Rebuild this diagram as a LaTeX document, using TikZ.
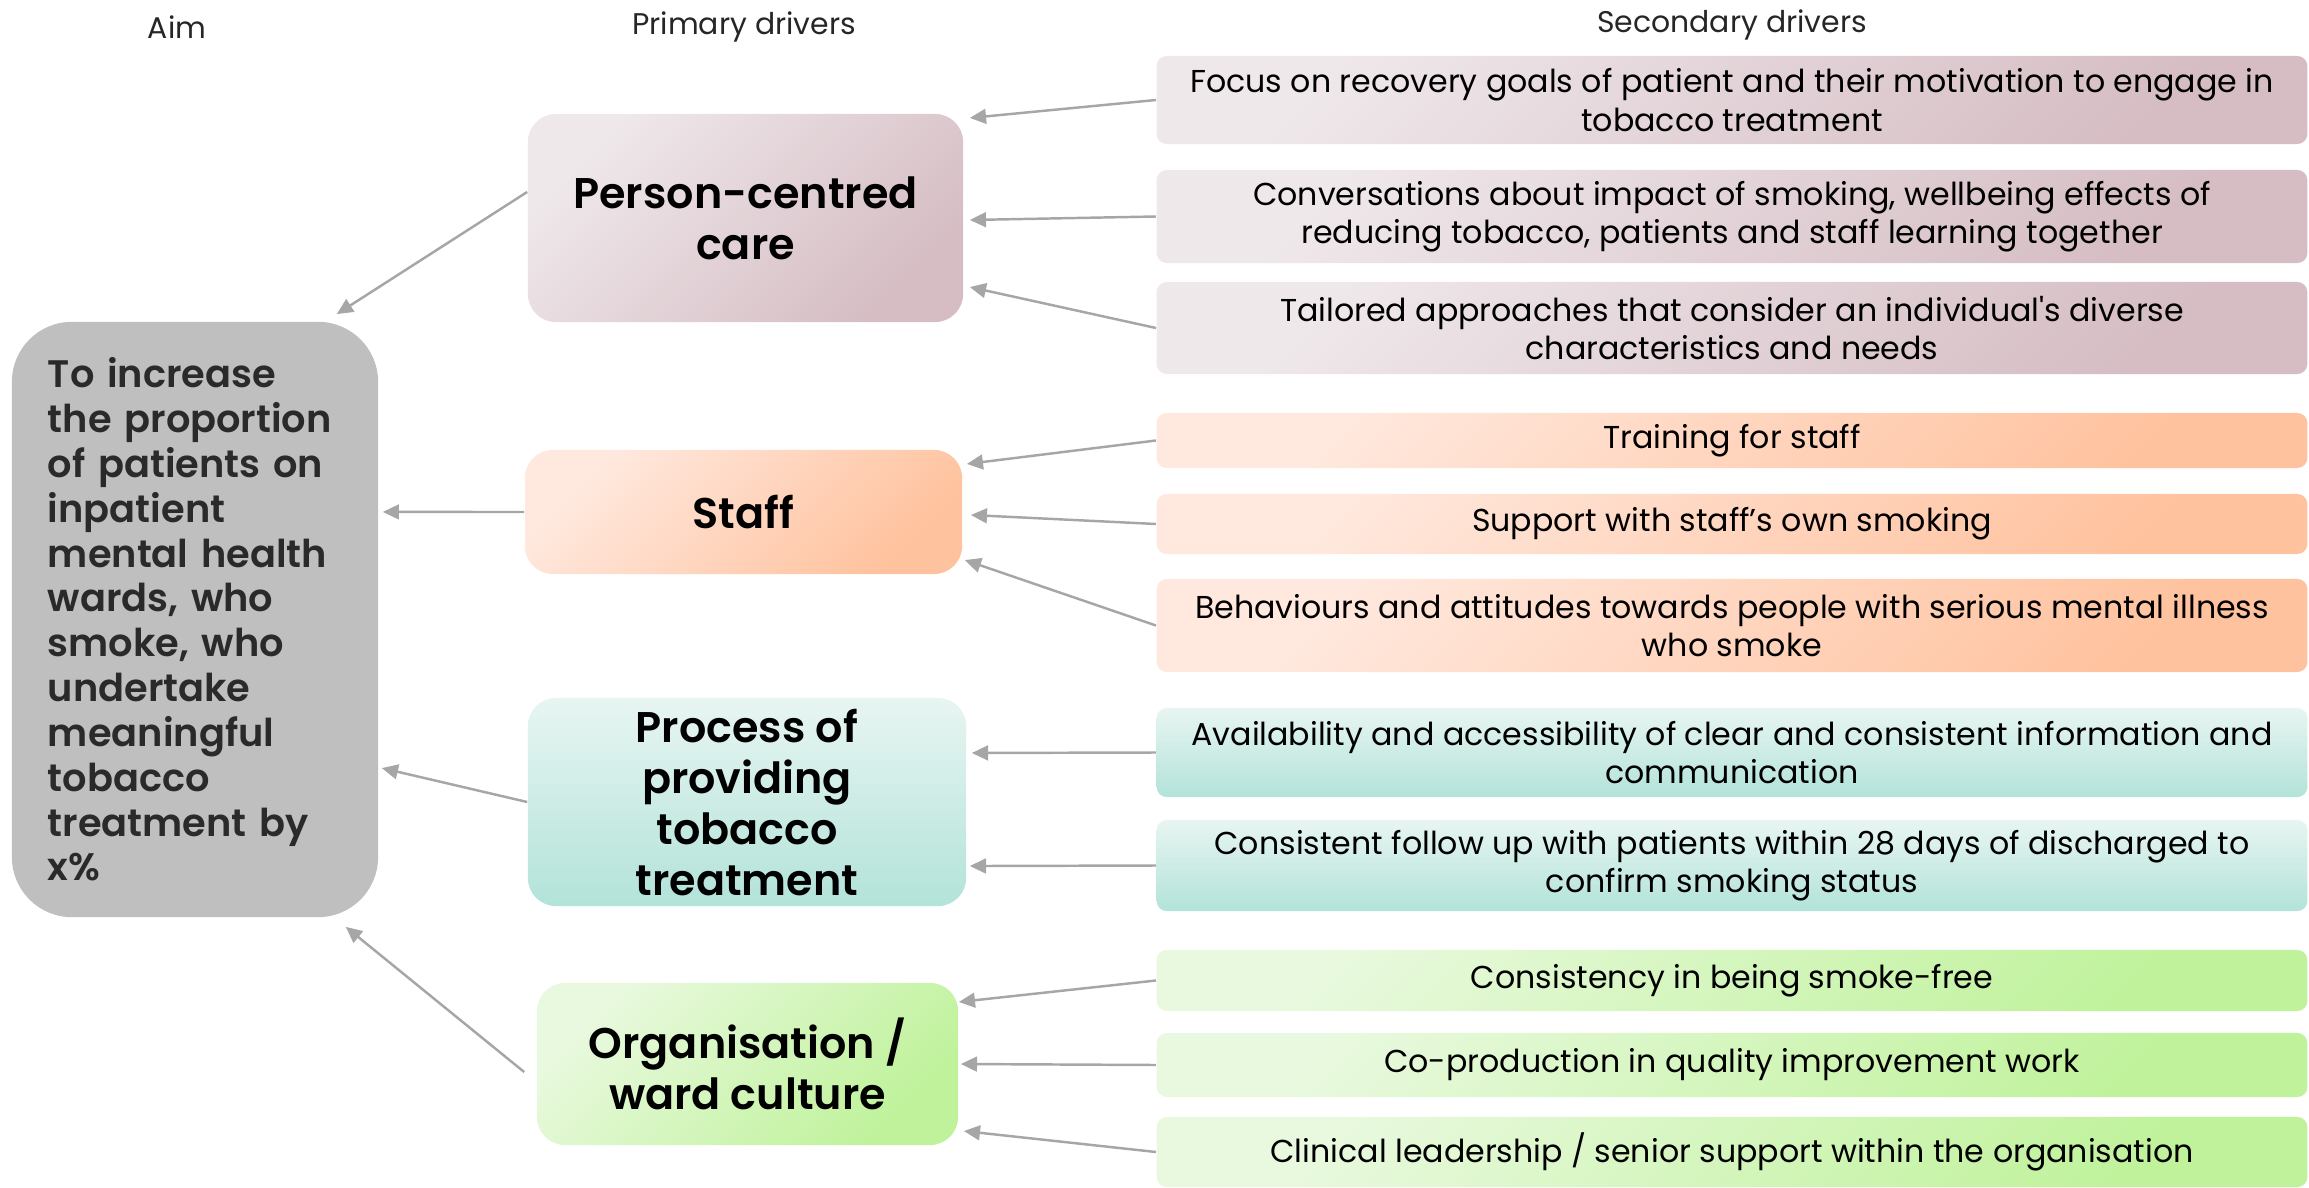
\documentclass[tikz,border=0pt]{standalone}
\usepackage{fontspec}
\setmainfont{Poppins}
\newfontfamily\semibold{Poppins SemiBold}
\usepackage{xcolor}
\usetikzlibrary{arrows.meta}

\definecolor{aimgray}{HTML}{BFBFBF}
\definecolor{aimtext}{HTML}{2A2A2A}
\definecolor{arrowgray}{HTML}{A6A6A6}
\definecolor{careA}{HTML}{EFE8EB}
\definecolor{careB}{HTML}{D5BDC3}
\definecolor{staffA}{HTML}{FFE9DF}
\definecolor{staffB}{HTML}{FFC29E}
\definecolor{procA}{HTML}{E8F5F2}
\definecolor{procB}{HTML}{B2E3D9}
\definecolor{orgA}{HTML}{E9F9DF}
\definecolor{orgB}{HTML}{BFF29A}

\begin{document}
\begin{tikzpicture}[x=0.01cm, y=-0.01cm,
    every node/.style={inner sep=0pt, align=center},
    head/.style={font=\fontsize{8.5}{10}\selectfont, text=black!85},
    prim/.style={rounded corners=0.28cm, font=\semibold\fontsize{12.2}{14.5}\selectfont},
    sec/.style={rounded corners=0.1cm, minimum width=11.5cm, font=\fontsize{9}{10.9}\selectfont},
    care/.style={top color=careA, bottom color=careB, shading angle=45},
    staff/.style={top color=staffA, bottom color=staffB, shading angle=45},
    proc/.style={top color=procA, bottom color=procB},
    org/.style={top color=orgA, bottom color=orgB, shading angle=45},
    arr/.style={-{Triangle[length=4.6pt,width=4.2pt]}, draw=arrowgray, line width=0.7pt}]
  \useasboundingbox (0,0) rectangle (2309,1188);

  % column headings
  \node[head] (haim) at (177,27) {Aim};
  \node[head] (hprim) at (744,27) {Primary drivers};
  \node[head] (hsec) at (1732,25) {Secondary drivers};

  % aim
  \node[fill=aimgray, rounded corners=0.6cm, minimum width=3.66cm, minimum height=5.95cm,
        text width=2.94cm, align=left, text=aimtext,
        font=\semibold\fontsize{10.9}{12.75}\selectfont] (aim) at (195,619.5)
    {To increase\\the proportion\\of patients on\\inpatient\\mental health\\wards, who\\smoke, who\\undertake\\meaningful\\tobacco\\treatment by\\x\%};

  % primary drivers
  \node[prim, care, minimum width=4.35cm, minimum height=2.08cm] (p1) at (745.5,218) {Person-centred\\care};
  \node[prim, staff, minimum width=4.37cm, minimum height=1.24cm] (p2) at (743.5,512) {Staff};
  \node[prim, proc, minimum width=4.38cm, minimum height=2.08cm] (p3) at (747,802) {Process of\\providing\\tobacco\\treatment};
  \node[prim, org, minimum width=4.21cm, minimum height=1.62cm] (p4) at (747.5,1064) {Organisation /\\ward culture};

  % secondary drivers
  \node[sec, care, minimum height=0.88cm] (s1) at (1732,100) {Focus on recovery goals of patient and their motivation to engage in\\tobacco treatment};
  \node[sec, care, minimum height=0.93cm] (s2) at (1732,216.5) {Conversations about impact of smoking, wellbeing effects of\\reducing tobacco, patients and staff learning together};
  \node[sec, care, minimum height=0.92cm] (s3) at (1732,328) {Tailored approaches that consider an individual\textquotesingle s diverse\\characteristics and needs};
  \node[sec, staff, minimum height=0.55cm] (s4) at (1732,440.5) {Training for staff};
  \node[sec, staff, minimum height=0.60cm] (s5) at (1732,524) {Support with staff’s own smoking};
  \node[sec, staff, minimum height=0.93cm] (s6) at (1732,625.5) {Behaviours and attitudes towards people with serious mental illness\\who smoke};
  \node[sec, proc, minimum height=0.89cm] (s7) at (1732,752.5) {Availability and accessibility of clear and consistent information and\\communication};
  \node[sec, proc, minimum height=0.91cm] (s8) at (1732,865.5) {Consistent follow up with patients within 28 days of discharged to\\confirm smoking status};
  \node[sec, org, minimum height=0.61cm] (s9) at (1732,980.5) {Consistency in being smoke-free};
  \node[sec, org, minimum height=0.64cm] (s10) at (1732,1065) {Co-production in quality improvement work};
  \node[sec, org, minimum height=0.70cm] (s11) at (1732,1152) {Clinical leadership / senior support within the organisation};

  % primary drivers into the aim
  \draw[arr] ([yshift=0.26cm]p1.west) -- ([xshift=-0.42cm,yshift=0.07cm]aim.north east);
  \draw[arr] (p2.west) -- ([xshift=0.04cm,yshift=1.075cm]aim.east);
  \draw[arr] (p3.west) -- ([xshift=0.03cm,yshift=-1.485cm]aim.east);
  \draw[arr] ([xshift=-0.12cm,yshift=-0.08cm]p4.west) -- ([xshift=-0.33cm,yshift=-0.09cm]aim.south east);

  % secondary drivers into the primary drivers
  \draw[arr] (s1.west) -- ([xshift=0.06cm,yshift=1.0cm]p1.east);
  \draw[arr] (s2.west) -- ([xshift=0.06cm,yshift=-0.02cm]p1.east);
  \draw[arr] (s3.west) -- ([xshift=0.06cm,yshift=-0.69cm]p1.east);
  \draw[arr] (s4.west) -- ([xshift=0.04cm,yshift=0.48cm]p2.east);
  \draw[arr] (s5.west) -- ([xshift=0.08cm,yshift=-0.03cm]p2.east);
  \draw[arr] (s6.west) -- ([xshift=0.02cm,yshift=-0.48cm]p2.east);
  \draw[arr] (s7.west) -- ([xshift=0.05cm,yshift=0.49cm]p3.east);
  \draw[arr] (s8.west) -- ([xshift=0.03cm,yshift=-0.64cm]p3.east);
  \draw[arr] (s9.west) -- ([yshift=0.62cm]p4.east);
  \draw[arr] (s10.west) -- ([xshift=0.02cm]p4.east);
  \draw[arr] (s11.west) -- ([xshift=0.05cm,yshift=-0.67cm]p4.east);
\end{tikzpicture}
\end{document}
